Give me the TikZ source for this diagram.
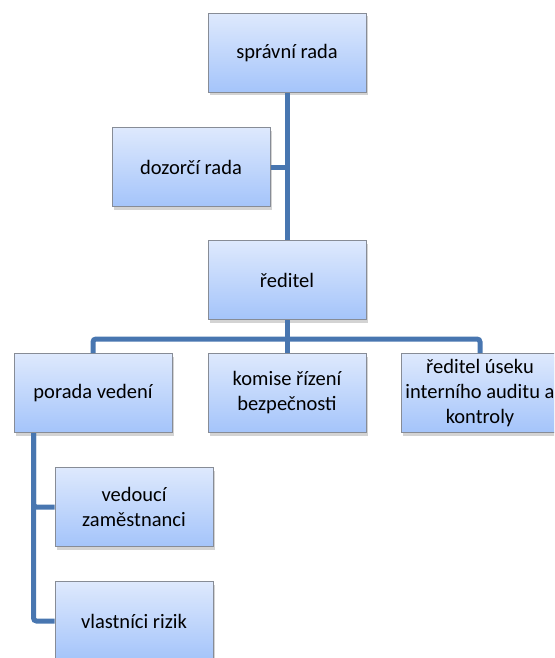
\documentclass[tikz,border=0pt]{standalone}
\usepackage{fontspec}
\setmainfont{Carlito}
\usetikzlibrary{positioning,shadows,calc}
\definecolor{linkblue}{RGB}{72,118,176}
\definecolor{boxtop}{RGB}{222,233,253}
\definecolor{boxbottom}{RGB}{164,196,250}
\definecolor{boxedge}{RGB}{135,140,150}
\tikzset{
  unit/.style={draw=boxedge,line width=1pt,top color=boxtop,bottom color=boxbottom,
    minimum width=158pt,minimum height=79pt,align=center,font=\fontsize{20.5}{25}\selectfont,
    drop shadow={shadow xshift=2pt,shadow yshift=-3pt,opacity=0.35}},
  link/.style={linkblue,line width=5pt,rounded corners=3pt}
}
\begin{document}
\begin{tikzpicture}[x=1pt,y=-1pt]
\useasboundingbox (0,0) rectangle (554,658);
\clip (0,0) rectangle (554,658);
\node[unit] (sprava) at (287,53) {správní rada};
\node[unit] (dozor) at (191,167) {dozorčí rada};
\node[unit] (reditel) at (287,280) {ředitel};
\node[unit] (porada) at (93,393) {porada vedení};
\node[unit] (komise) at (287,393) {komise řízení\\bezpečnosti};
\node[unit] (usek) at (480,393) {ředitel úseku\\interního auditu a\\kontroly};
\node[unit] (vedouci) at (134,507) {vedoucí\\zaměstnanci};
\node[unit] (vlastnici) at (134,621) {vlastníci rizik};
\coordinate (bus) at (287,339);
\draw[link] (sprava.south) -- (reditel.north);
\draw[link] (dozor.east) -- (dozor.east -| sprava.south);
\draw[link] (reditel.south) -- (bus);
\draw[link] (porada.north) |- (bus) -| (usek.north);
\draw[link] (bus) -- (komise.north);
\draw[link] ([xshift=20pt]porada.south west) |- (vedouci.west);
\draw[link] ([xshift=20pt]porada.south west) |- (vlastnici.west);
\end{tikzpicture}
\end{document}
